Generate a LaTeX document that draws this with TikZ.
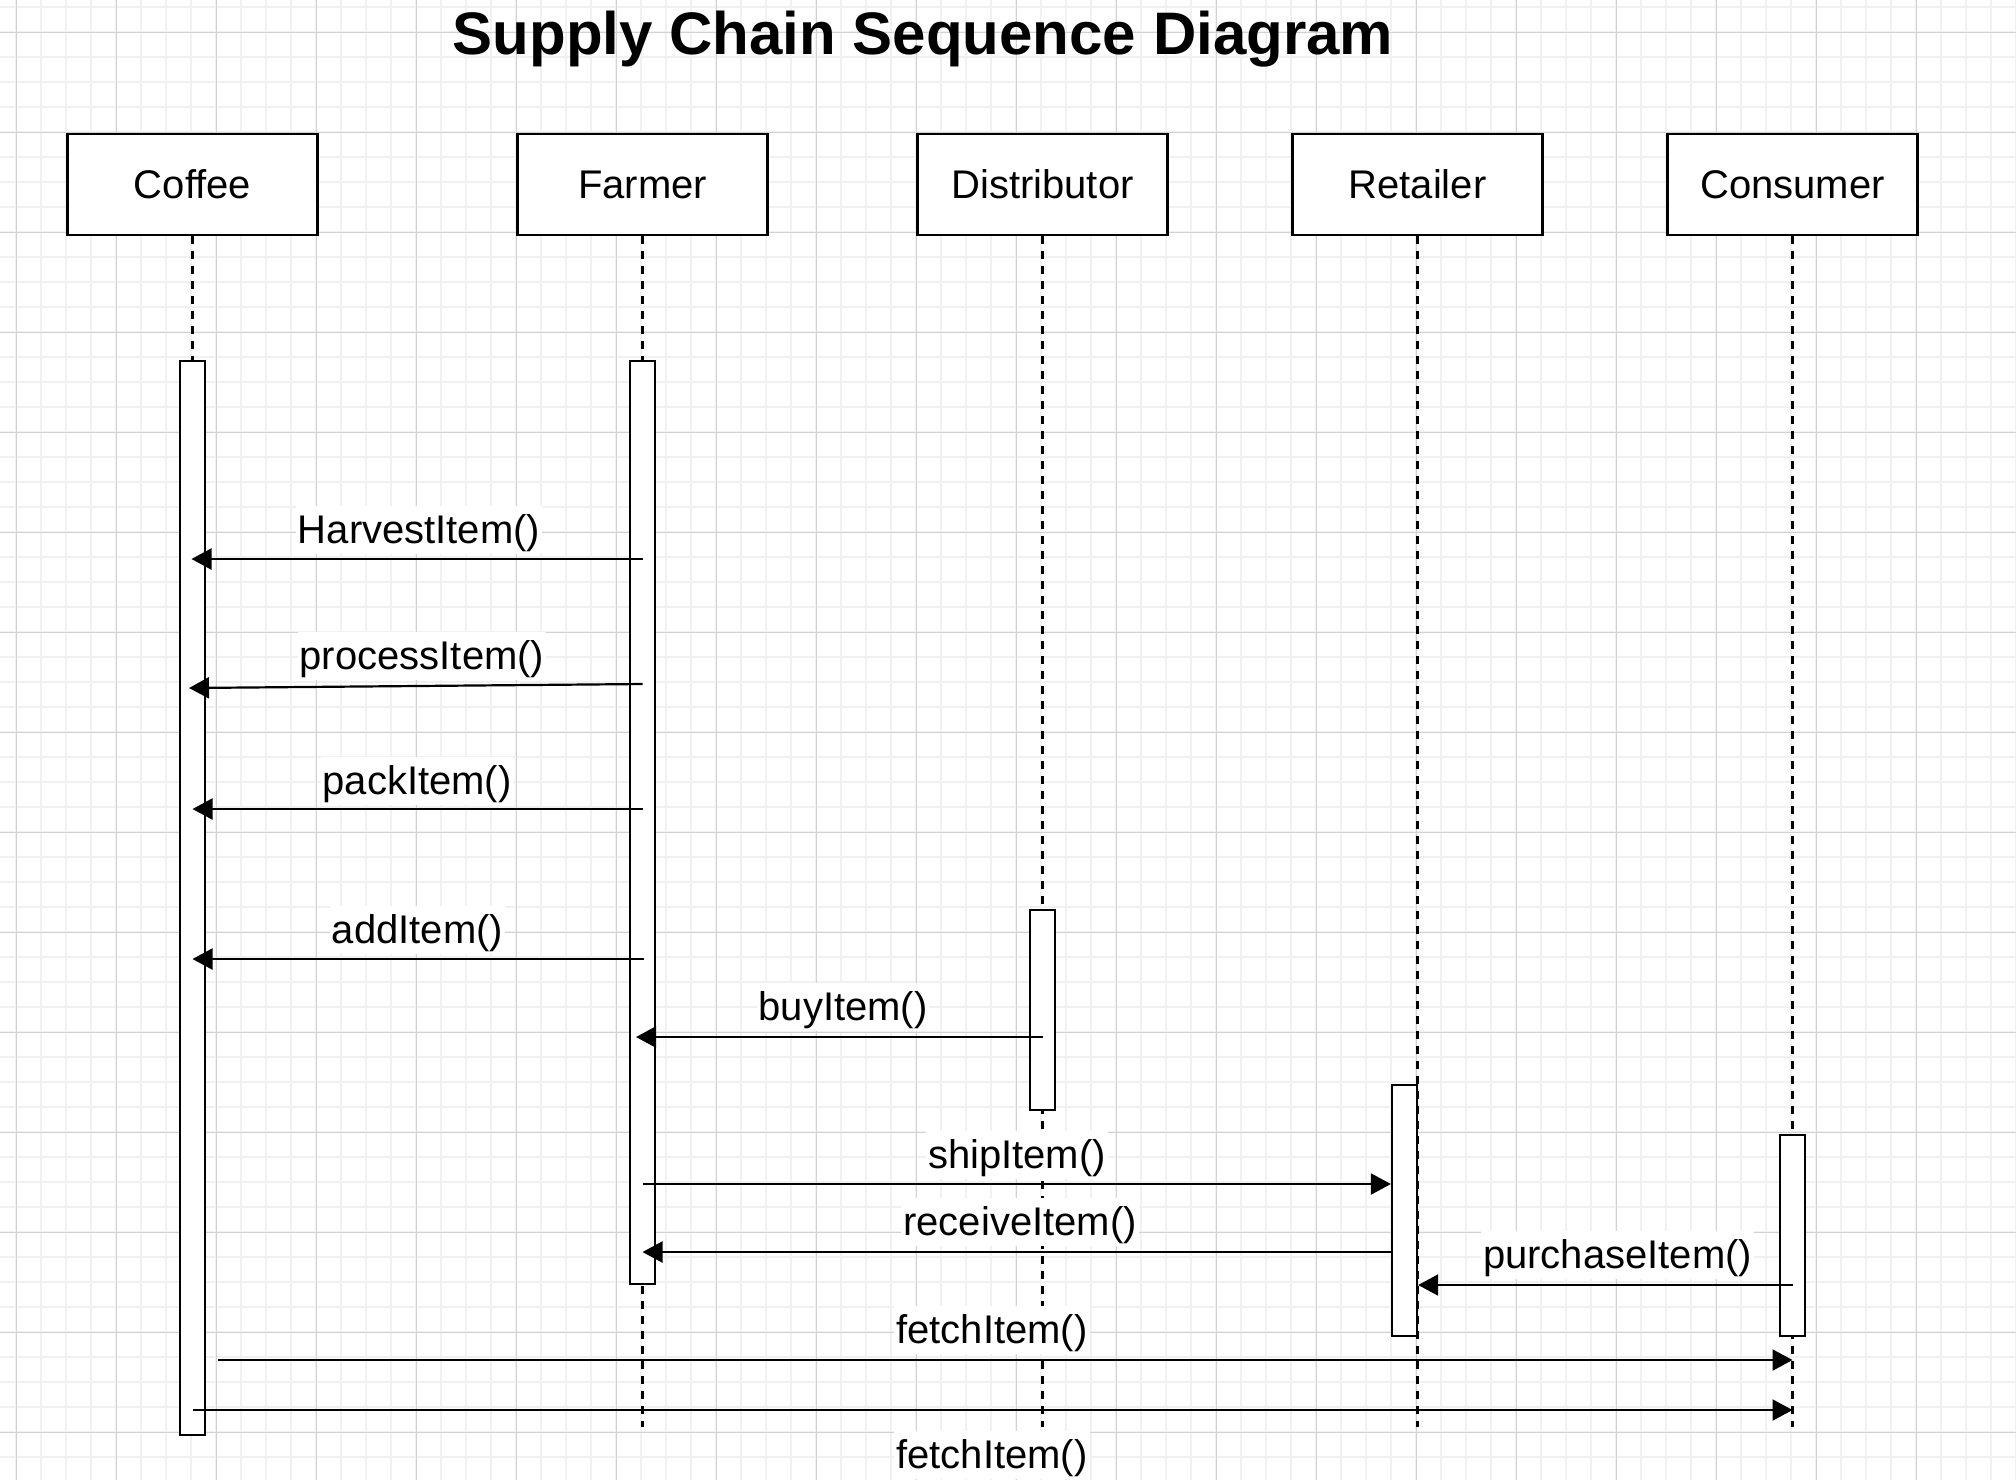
\documentclass[tikz,border=0pt]{standalone}
\usepackage{fontspec}
\setmainfont{Liberation Sans}
\usetikzlibrary{arrows.meta,calc}
\definecolor{gridminor}{HTML}{F1F1F1}
\definecolor{gridmajor}{HTML}{D2D2D2}
\begin{document}
\begin{tikzpicture}[x=0.5pt,y=-0.5pt,
  hdr/.style={draw,line width=1.2pt,fill=white,minimum width=125pt,minimum height=50.5pt,inner sep=0pt,font=\fontsize{20}{24}\selectfont},
  actbar/.style={draw,line width=1.15pt,fill=white,minimum width=12.5pt,inner sep=0pt,anchor=north},
  life/.style={line width=1.1pt,dash pattern=on 3.75pt off 3.75pt},
  msg/.style={line width=1.1pt,-{Triangle[length=10pt,width=10.5pt]}},
  lbl/.style={fill=white,inner xsep=1pt,inner ysep=1.5pt,text height=17pt,text depth=4pt,anchor=base,font=\fontsize{20}{24}\selectfont},
  gmin/.style={draw=gridminor,line width=0.8pt},
  gmaj/.style={draw=gridmajor,line width=0.5pt}
]
\useasboundingbox (0,0) rectangle (2016,1480);
\fill[white] (0,0) rectangle (2016,1480);
% grid
\foreach \x in {16,41,...,2016} \draw[gmin] (\x,0) -- (\x,1480);
\foreach \y in {7,32,...,1480} \draw[gmin] (0,\y) -- (2016,\y);
\foreach \x in {16,116,...,2016} \draw[gmaj] (\x,0) -- (\x,1480);
\foreach \y in {32,132,...,1480} \draw[gmaj] (0,\y) -- (2016,\y);

% title
\node[font=\fontsize{30}{36}\selectfont\bfseries,anchor=base,inner sep=0pt] (title) at (923,54) {Supply Chain Sequence Diagram};

% headers
\node[hdr] (coffee) at (192.5,184.5) {Coffee};
\node[hdr] (farmer) at (642.5,184.5) {Farmer};
\node[hdr] (distributor) at (1042.5,184.5) {Distributor};
\node[hdr] (retailer) at (1417.5,184.5) {Retailer};
\node[hdr] (consumer) at (1792.5,184.5) {Consumer};

% lifeline end
\coordinate (lend) at (0,1427);
\draw[life] (coffee.south) -- (coffee.south |- lend);
\draw[life] (farmer.south) -- (farmer.south |- lend);
\draw[life] (distributor.south) -- (distributor.south |- lend);
\draw[life] (retailer.south) -- (retailer.south |- lend);
\draw[life] (consumer.south) -- (consumer.south |- lend);

% activation bars
\node[actbar,minimum height=537pt] (cbar) at (192.5,360) {};
\node[actbar,minimum height=461.5pt] (fbar) at (642.5,360) {};
\node[actbar,minimum height=100pt] (dbar) at (1042.5,909) {};
\node[actbar,minimum height=125.5pt] (rbar) at (1404.5,1084) {};
\node[actbar,minimum height=100.5pt] (kbar) at (1792.5,1134) {};

% message rows
\coordinate (m1) at (0,559);
\coordinate (m2a) at (0,684);
\coordinate (m2b) at (0,688);
\coordinate (m3) at (0,809);
\coordinate (m4) at (0,959);
\coordinate (m5) at (0,1037);
\coordinate (m6) at (0,1184);
\coordinate (m7) at (0,1252);
\coordinate (m8) at (0,1285);
\coordinate (m9) at (0,1360);
\coordinate (m10) at (0,1410);

\draw[msg] (fbar.north |- m1) -- ($(cbar.north |- m1)+(-1,0)$);
\draw[msg] (fbar.north |- m2a) -- ($(cbar.north |- m2b)+(-3.5,0)$);
\draw[msg] (fbar.north |- m3) -- (cbar.north |- m3);
\draw[msg] ($(fbar.north |- m4)+(1.5,0)$) -- (cbar.north |- m4);
\draw[msg] (dbar.north |- m5) -- ($(fbar.north |- m5)+(-6.5,0)$);
\draw[msg] (fbar.north |- m6) -- (rbar.west |- m6);
\draw[msg] (rbar.west |- m7) -- (fbar.north |- m7);
\draw[msg] (kbar.north |- m8) -- (rbar.east |- m8);
\draw[msg] ($(cbar.east |- m9)+(12,0)$) -- (kbar.north |- m9);
\draw[msg] (cbar.north |- m10) -- (kbar.north |- m10);

% labels
\node[lbl] (l1) at (419,543) {HarvestItem()};
\node[lbl] (l2) at (422,669) {processItem()};
\node[lbl] (l3) at (417,794) {packItem()};
\node[lbl] (l4) at (417.5,943) {addItem()};
\node[lbl] (l5) at (843,1020) {buyItem()};
\node[lbl] (l6) at (1017,1168) {shipItem()};
\node[lbl] (l7) at (1020,1235) {receiveItem()};
\node[lbl] (l8) at (1617.5,1268) {purchaseItem()};
\node[lbl] (l9) at (992,1343) {fetchItem()};
\node[lbl] (l10) at (992,1468) {fetchItem()};
\end{tikzpicture}
\end{document}
